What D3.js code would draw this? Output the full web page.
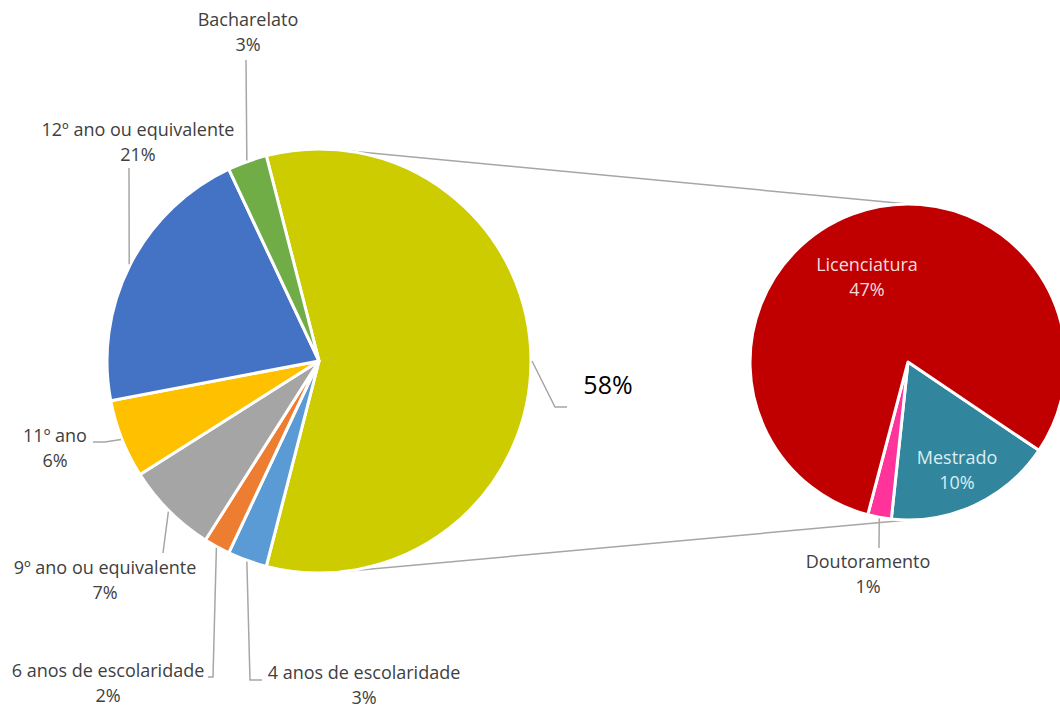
<!DOCTYPE html>
<html lang="pt">
<head>
    <meta charset="UTF-8">
    <title>Habilitações</title>
    <script src="https://d3js.org/d3.v7.min.js"></script>
    <style>
        body {
            margin: 0;
            background: #ffffff;
        }
        svg text {
            font-family: "Open Sans", "Noto Sans", sans-serif;
        }
        .lbl {
            font-size: 18px;
            fill: #404040;
        }
        .leader {
            fill: none;
            stroke: #a6a6a6;
            stroke-width: 1.5;
        }
    </style>
</head>
<body>
    <div id="chart"></div>
    <script>
        // Data
        const mainCategories = ["Outros", "4 anos de escolaridade", "6 anos de escolaridade",
            "9º ano ou equivalente", "11º ano", "12º ano ou equivalente", "Bacharelato"];
        const mainValues = [58, 3, 2, 7, 6, 21, 3];
        const subCategories = ["Mestrado", "Doutoramento", "Licenciatura"];
        const subValues = [10, 1.4, 46.6];

        const mainColors = ["#cccc00", "#5b9bd5", "#ed7d31", "#a5a5a5", "#ffc000", "#4472c4", "#70ad47"];
        const subColors = ["#31859c", "#ff3399", "#c00000"];

        const W = 1060, H = 710;
        const total = d3.sum(mainValues);
        const pct = d3.format(".0%");

        const main = { cx: 319, cy: 361, r: 212 };
        const sub = { cx: 908, cy: 362, r: 158 };

        const svg = d3.select("#chart").append("svg")
            .attr("width", W)
            .attr("height", H);

        // point on a circle for a d3 angle (0 = top, clockwise)
        function pt(c, a, r) {
            return [c.cx + r * Math.sin(a), c.cy - r * Math.cos(a)];
        }

        // connector lines: tangent from the second pie's top/bottom to the main pie
        function tangent(p, upper) {
            const dx = p[0] - main.cx, dy = p[1] - main.cy;
            const d = Math.hypot(dx, dy);
            const base = Math.atan2(dx, -dy);
            const off = Math.acos(main.r / d);
            return pt(main, upper ? base - off : base + off, main.r);
        }
        const topP = pt(sub, 0, sub.r);
        const botP = pt(sub, Math.PI, sub.r);
        [[tangent(topP, true), topP], [tangent(botP, false), botP]].forEach(seg => {
            svg.append("line")
                .attr("class", "leader")
                .attr("x1", seg[0][0]).attr("y1", seg[0][1])
                .attr("x2", seg[1][0]).attr("y2", seg[1][1]);
        });

        // main pie
        const mainShare = mainValues[0] / total * 2 * Math.PI;
        const mainPie = d3.pie().sort(null)
            .startAngle(Math.PI / 2 - mainShare / 2)
            .endAngle(Math.PI / 2 - mainShare / 2 + 2 * Math.PI);
        const mainArcs = mainPie(mainValues);
        const mainArc = d3.arc().innerRadius(0).outerRadius(main.r);

        svg.append("g")
            .attr("transform", `translate(${main.cx},${main.cy})`)
            .selectAll("path")
            .data(mainArcs)
            .join("path")
            .attr("d", mainArc)
            .attr("fill", (d, i) => mainColors[i])
            .attr("stroke", "#ffffff")
            .attr("stroke-width", 3)
            .attr("stroke-linejoin", "round");

        // second pie
        const subStart = 124 * Math.PI / 180;
        const subPie = d3.pie().sort(null)
            .startAngle(subStart)
            .endAngle(subStart + 2 * Math.PI);
        const subArcs = subPie(subValues);
        const subArc = d3.arc().innerRadius(0).outerRadius(sub.r);

        svg.append("g")
            .attr("transform", `translate(${sub.cx},${sub.cy})`)
            .selectAll("path")
            .data(subArcs)
            .join("path")
            .attr("d", subArc)
            .attr("fill", (d, i) => subColors[i])
            .attr("stroke", "#ffffff")
            .attr("stroke-width", 3)
            .attr("stroke-linejoin", "round");

        const mid = d => (d.startAngle + d.endAngle) / 2;

        // label layout: text centre and leader bends (main pie order)
        const mainLayout = [
            { x: 608, y: 385, big: true, bends: [[555, 407], [567, 407]] },
            { x: 364, y: 673, bends: [[250, 680], [262, 680]] },
            { x: 108, y: 671, bends: [[213, 677], [208, 677]] },
            { x: 105, y: 568, bends: [[163, 553]] },
            { x: 55, y: 436, bends: [[105, 442], [93, 442]] },
            { x: 138, y: 130, bends: [[129, 168]] },
            { x: 248, y: 20, bends: [[246, 60]] }
        ];
        const subLayout = [
            { x: 957, y: 458, fill: "#daeef3" },
            { x: 868, y: 562, bends: [[879, 548]] },
            { x: 867, y: 265, fill: "#f2dcdb" }
        ];

        const line = d3.line();

        function drawLabels(arcs, circle, cats, layout) {
            arcs.forEach((d, i) => {
                const L = layout[i];
                if (L.bends) {
                    const start = pt(circle, mid(d), circle.r + 1);
                    svg.append("path")
                        .attr("class", "leader")
                        .attr("d", line([start, ...L.bends]));
                }
                const p = pct(d.value / total);
                if (L.big) {
                    svg.append("text")
                        .attr("x", L.x).attr("y", L.y)
                        .attr("dy", "0.35em")
                        .attr("text-anchor", "middle")
                        .style("font-size", "25px")
                        .style("fill", "#000000")
                        .text(p);
                    return;
                }
                const t = svg.append("text")
                    .attr("class", "lbl")
                    .attr("text-anchor", "middle")
                    .style("fill", L.fill || null);
                t.append("tspan").attr("x", L.x).attr("y", L.y).attr("dy", "0.35em").text(cats[i]);
                t.append("tspan").attr("x", L.x).attr("y", L.y + 25).attr("dy", "0.35em").text(p);
            });
        }

        drawLabels(mainArcs, main, mainCategories, mainLayout);
        drawLabels(subArcs, sub, subCategories, subLayout);
    </script>
</body>
</html>
